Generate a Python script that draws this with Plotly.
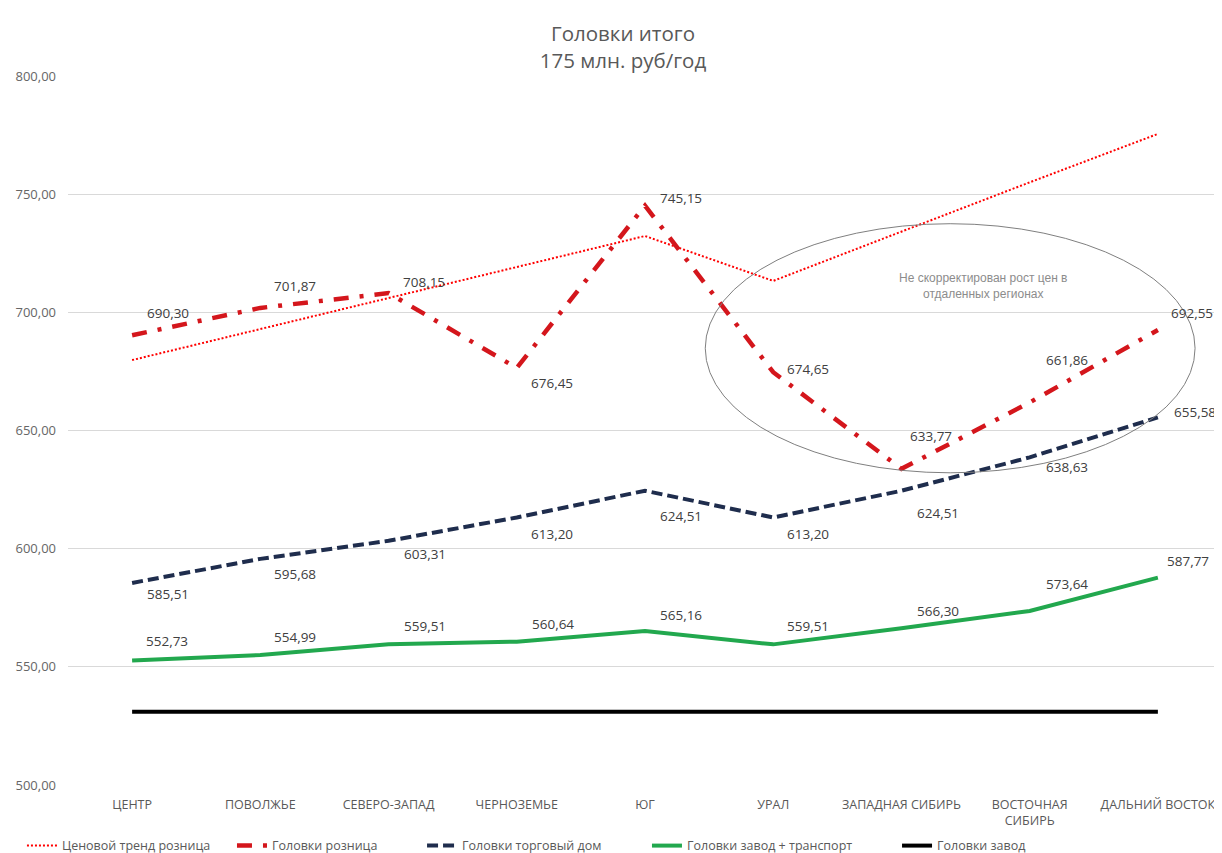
import plotly.graph_objects as go

categories = ["ЦЕНТР", "ПОВОЛЖЬЕ", "СЕВЕРО-ЗАПАД", "ЧЕРНОЗЕМЬЕ", "ЮГ", "УРАЛ",
              "ЗАПАДНАЯ СИБИРЬ", "ВОСТОЧНАЯ<br>СИБИРЬ", "ДАЛЬНИЙ ВОСТОК"]
trend_retail = [679.8, 692.9, 706.0, 719.2, 732.3, 713.3, 734.2, 755.0, 775.5]
retail = [690.30, 701.87, 708.15, 676.45, 745.15, 674.65, 633.77, 661.86, 692.55]
trading_house = [585.51, 595.68, 603.31, 613.20, 624.51, 613.20, 624.51, 638.63, 655.58]
plant_transport = [552.73, 554.99, 559.51, 560.64, 565.16, 559.51, 566.30, 573.64, 587.77]
plant = [531.0] * 9

# label offsets (dx right, dy down) in pixels
retail_off = [(36, -22), (35, -22), (35, -11), (35, 15), (36, -8), (35, -3), (30, -33), (37, -42), (34, -17)]
th_off = [(36, 11), (35, 15), (36, 13), (35, 17), (36, 25), (35, 17), (37, 22), (37, 10), (37, -5)]
pt_off = [(35, -19), (35, -18), (36, -18), (36, -18), (36, -16), (35, -18), (37, -17), (37, -27), (30, -17)]

# legend entry positions (paper x)
legend_x = [-0.0399, 0.1421, 0.3068, 0.5017, 0.7184]

fig = go.Figure()
fig.add_trace(go.Scatter(x=categories, y=trend_retail, mode="lines", name="Ценовой тренд розница",
                         line=dict(color="#ff0000", width=2, dash="2px,2px"), legend="legend"))
fig.add_trace(go.Scatter(x=categories, y=retail, mode="lines", name="Головки розница",
                         line=dict(color="#d4161c", width=4.5, dash="15px,11px,4px,11px"), legend="legend2"))
fig.add_trace(go.Scatter(x=categories, y=trading_house, mode="lines", name="Головки торговый дом",
                         line=dict(color="#1f2d4d", width=4, dash="11px,5px"), legend="legend3"))
fig.add_trace(go.Scatter(x=categories, y=plant_transport, mode="lines", name="Головки завод + транспорт",
                         line=dict(color="#22a84e", width=4), legend="legend4"))
fig.add_trace(go.Scatter(x=categories, y=plant, mode="lines", name="Головки завод",
                         line=dict(color="#000000", width=4), legend="legend5"))

annotations = []
for series, offs in ((retail, retail_off), (trading_house, th_off), (plant_transport, pt_off)):
    for c, v, (dx, dy) in zip(categories, series, offs):
        annotations.append(dict(x=c, y=v, text=f"{v:.2f}".replace(".", ","), showarrow=False,
                                xshift=dx, yshift=-dy,
                                font=dict(family="Open Sans", size=13.5, color="#404040")))

annotations.append(dict(x=6.64, y=711.2, text="Не скорректирован рост цен в<br>отдаленных регионах",
                        showarrow=False, font=dict(family="Liberation Sans", size=12, color="#8c8c8c")))

fig.add_shape(type="circle", xref="x", yref="y", x0=4.47, x1=8.29, y0=632.1, y1=737.5,
              line=dict(color="#7f7f7f", width=1))

legend_common = dict(orientation="h", xanchor="left", y=-0.086, yanchor="middle",
                     font=dict(family="Open Sans", size=12.5, color="#595959"), tracegroupgap=0)

fig.update_layout(
    width=1214, height=853,
    paper_bgcolor="white", plot_bgcolor="white",
    separators=", ",
    margin=dict(l=60, r=0, t=68, b=76),
    title=dict(text="Головки итого<br>175 млн. руб/год", x=0.5066, xanchor="center", y=0.961, yanchor="top",
               font=dict(family="Open Sans", size=20.5, color="#595959")),
    showlegend=True,
    legend=dict(x=legend_x[0], **legend_common),
    legend2=dict(x=legend_x[1], **legend_common),
    legend3=dict(x=legend_x[2], **legend_common),
    legend4=dict(x=legend_x[3], **legend_common),
    legend5=dict(x=legend_x[4], **legend_common),
    annotations=annotations,
)
fig.update_xaxes(range=[-0.5, 8.5], showgrid=False, showline=False, zeroline=False, ticks="",
                 ticklabelstandoff=10,
                 tickfont=dict(family="Open Sans", size=12.5, color="#595959"))
fig.update_yaxes(range=[500, 800], dtick=50, tickformat=".2f", showgrid=True, gridcolor="#d9d9d9",
                 gridwidth=1, zeroline=False, showline=False, ticklabelstandoff=11,
                 tickfont=dict(family="Open Sans", size=13, color="#666666"))

fig.write_html("out.html")
